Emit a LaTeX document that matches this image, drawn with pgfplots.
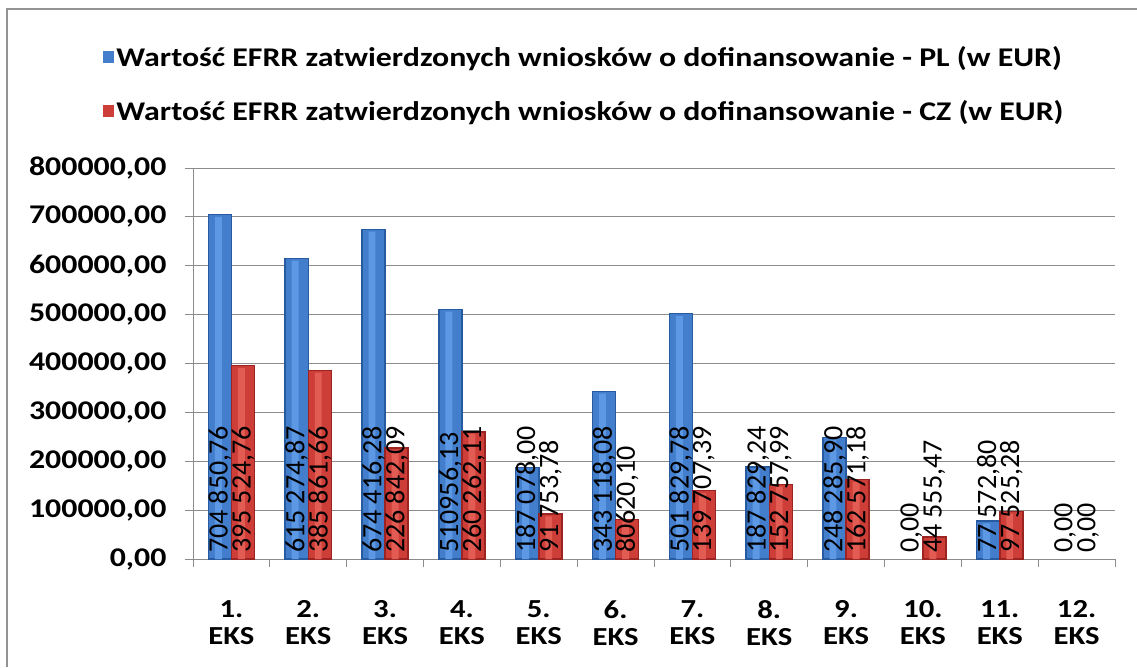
\documentclass[border=0pt]{standalone}
\usepackage{pgfplots}
\pgfplotsset{compat=1.18}
\usepackage{fontspec}
\setmainfont{Carlito}[FakeStretch=1.18]
\newfontfamily\labfont{Carlito}
\definecolor{blueD}{RGB}{40,90,160}
\definecolor{blueM}{RGB}{66,126,204}
\definecolor{blueL}{RGB}{92,152,228}
\definecolor{redD}{RGB}{155,36,34}
\definecolor{redM}{RGB}{205,62,56}
\definecolor{redL}{RGB}{226,92,84}
\definecolor{gridc}{RGB}{140,140,140}
\pgfplotsset{
  sqlegend/.style={legend image code/.code={\path[##1,draw=none] (0pt,-6pt) rectangle (11pt,6pt);}},
}
\begin{document}
\begin{tikzpicture}[x=1pt,y=1pt]
\path[use as bounding box] (0,0) rectangle (1137,667);
\draw[gray!85, line width=2.5pt] (7,0) -- (7,658) -- (1137,658);
\begin{axis}[
  at={(193pt,108pt)}, anchor=south west,
  scale only axis, width=922pt, height=391pt,
  xmin=0.5, xmax=12.5, ymin=0, ymax=800000,
  axis x line*=bottom, axis y line*=left,
  axis line style={gridc, line width=1pt},
  tick style={gridc, line width=1pt},
  major tick length=8pt, tick align=outside,
  ytick={0,100000,200000,300000,400000,500000,600000,700000,800000},
  ymajorgrids, grid style={gridc, line width=1pt},
  scaled y ticks=false,
  yticklabel style={font=\bfseries\fontsize{27}{27}\selectfont, xshift=-15pt, /pgf/number format/.cd, fixed, fixed zerofill, precision=2, use comma, 1000 sep={}, assume math mode=true},
  xtick={0.5,1.5,2.5,3.5,4.5,5.5,6.5,7.5,8.5,9.5,10.5,11.5,12.5},
  xticklabels={},
  extra x ticks={1,2,3,4,5,6,7,8,9,10,11,12},
  extra x tick labels={{1.\\EKS},{2.\\EKS},{3.\\EKS},{4.\\EKS},{5.\\EKS},{6.\\EKS},{7.\\EKS},{8.\\EKS},{9.\\EKS},{10.\\EKS},{11.\\EKS},{12.\\EKS}},
  extra x tick style={major tick length=0pt, xticklabel style={align=center, font=\bfseries\fontsize{26}{27}\selectfont, yshift=-38pt}},
  legend style={at={(0.4246,1.2147)}, anchor=center, draw=none, fill=none,
    font=\bfseries\fontsize{27}{27}\selectfont, legend cell align=left, row sep=29pt,
    inner sep=0pt},
]
\addplot[ybar, bar width=0.3, bar shift=-0.15, fill=blueM, draw=blueD, line width=1.5pt, sqlegend] coordinates {
(1,704850.76) (2,615274.87) (3,674416.28) (4,510956.13) (5,187078.00) (6,343118.08)
(7,501829.78) (8,187829.24) (9,248285.90) (11,77572.80)};
\addlegendentry{Wartość EFRR zatwierdzonych wniosków o dofinansowanie - PL (w EUR)}
\addplot[ybar, bar width=0.3, bar shift=0.15, fill=redM, draw=redD, line width=1.5pt, sqlegend] coordinates {
(1,395524.76) (2,385861.66) (3,226842.09) (4,260262.11) (5,91753.78) (6,80620.10)
(7,139707.39) (8,152757.99) (9,162571.18) (10,44555.47) (11,97525.28)};
\addlegendentry{Wartość EFRR zatwierdzonych wniosków o dofinansowanie - CZ (w EUR)}
\addplot[forget plot, ybar, bar width=0.09, bar shift=-0.17, fill=blueL, draw=none] coordinates {
(1,700000) (2,610500) (3,669700) (4,506200) (5,182300) (6,338400)
(7,497100) (8,183100) (9,243500) (11,72800)};
\addplot[forget plot, ybar, bar width=0.09, bar shift=0.13, fill=redL, draw=none] coordinates {
(1,390800) (2,381100) (3,222100) (4,255500) (5,87000) (6,75900)
(7,135000) (8,148000) (9,157800) (10,39800) (11,92800)};
\addplot[forget plot, draw=none, mark=none, nodes near coords, point meta=explicit symbolic,
  nodes near coords style={rotate=90, anchor=west, inner sep=0pt, font=\labfont\fontsize{28}{28}\selectfont, text=black}]
  table[col sep=semicolon, meta=lab] {
x;y;lab
0.85;12000;704 850,76
1.85;12000;615 274,87
2.85;12000;674 416,28
3.85;12000;510956,13
4.85;12000;187 078,00
5.85;12000;343 118,08
6.85;12000;501 829,78
7.85;12000;187 829,24
8.85;12000;248 285,90
9.85;12000;0,00
10.85;12000;77 572,80
11.85;12000;0,00
};
\addplot[forget plot, draw=none, mark=none, nodes near coords, point meta=explicit symbolic,
  nodes near coords style={rotate=90, anchor=west, inner sep=0pt, font=\labfont\fontsize{28}{28}\selectfont, text=black}]
  table[col sep=semicolon, meta=lab] {
x;y;lab
1.15;12000;395 524,76
2.15;12000;385 861,66
3.15;12000;226 842,09
4.15;12000;260 262,11
5.15;12000;91 753,78
6.15;12000;80620,10
7.15;12000;139 707,39
8.15;12000;152 757,99
9.15;12000;162 571,18
10.15;12000;44 555,47
11.15;12000;97 525,28
12.15;12000;0,00
};
\end{axis}
\end{tikzpicture}
\end{document}
